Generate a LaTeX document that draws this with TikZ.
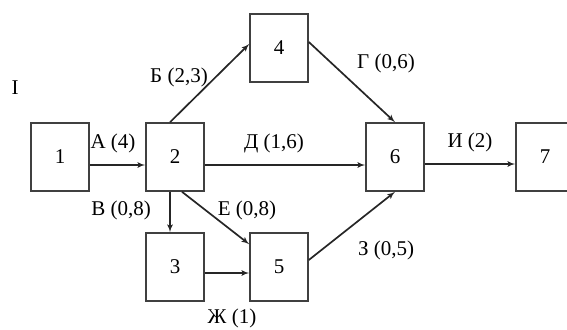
\documentclass[tikz,border=0pt]{standalone}
\usepackage{fontspec}
\setmainfont{Liberation Serif}
\usetikzlibrary{arrows}

\begin{document}
\begin{tikzpicture}
[x=1pt,y=-1pt,
event/.style={draw=black!75,line width=1.6pt,minimum width=58pt,minimum height=68pt,inner sep=0pt,font=\fontsize{21}{21}\selectfont},
edge/.style={line width=1.7pt,black!85},
rightEnd/.style={->,>=latex'},
workLabel/.style={font=\fontsize{21}{21}\selectfont,inner sep=1pt}]
\useasboundingbox (0,0) rectangle (567,329);
\node[event] (1) at (60,157) {1};
\node[event] (2) at (175,157) {2};
\node[event] (3) at (175,267) {3};
\node[event] (4) at (279,48) {4};
\node[event] (5) at (279,267) {5};
\node[event] (6) at (395,157) {6};
\node[event] (7) at (545,157) {7};
\node[workLabel] (mark) at (15,88) {I};

\draw[edge,rightEnd] ([yshift=-8pt]1.east) -- ([yshift=-8pt]2.west);
\draw[edge,rightEnd] ([xshift=-5pt]2.north) -- ([yshift=4pt]4.west);
\draw[edge,rightEnd] ([xshift=-5pt]2.south) -- ([xshift=-5pt]3.north);
\draw[edge,rightEnd] ([xshift=7pt]2.south) -- ([yshift=-12pt]5.north west);
\draw[edge,rightEnd] ([yshift=-8pt]2.east) -- ([yshift=-8pt]6.west);
\draw[edge,rightEnd] ([yshift=6pt]4.east) -- (6.north);
\draw[edge,rightEnd] ([yshift=-6pt]3.east) -- ([yshift=-6pt]5.west);
\draw[edge,rightEnd] ([yshift=7pt]5.east) -- (6.south);
\draw[edge,rightEnd] ([yshift=-7pt]6.east) -- ([yshift=-7pt]7.west);

\node[workLabel] (a) at (113,143) {А (4)};
\node[workLabel] (b) at (179,77) {Б (2,3)};
\node[workLabel] (v) at (121,210) {В (0,8)};
\node[workLabel] (g) at (386,63) {Г (0,6)};
\node[workLabel] (d) at (274,143) {Д (1,6)};
\node[workLabel] (e) at (247,210) {Е (0,8)};
\node[workLabel] (zh) at (232,318) {Ж (1)};
\node[workLabel] (z) at (386,250) {З (0,5)};
\node[workLabel] (i) at (470,142) {И (2)};
\end{tikzpicture}
\end{document}
